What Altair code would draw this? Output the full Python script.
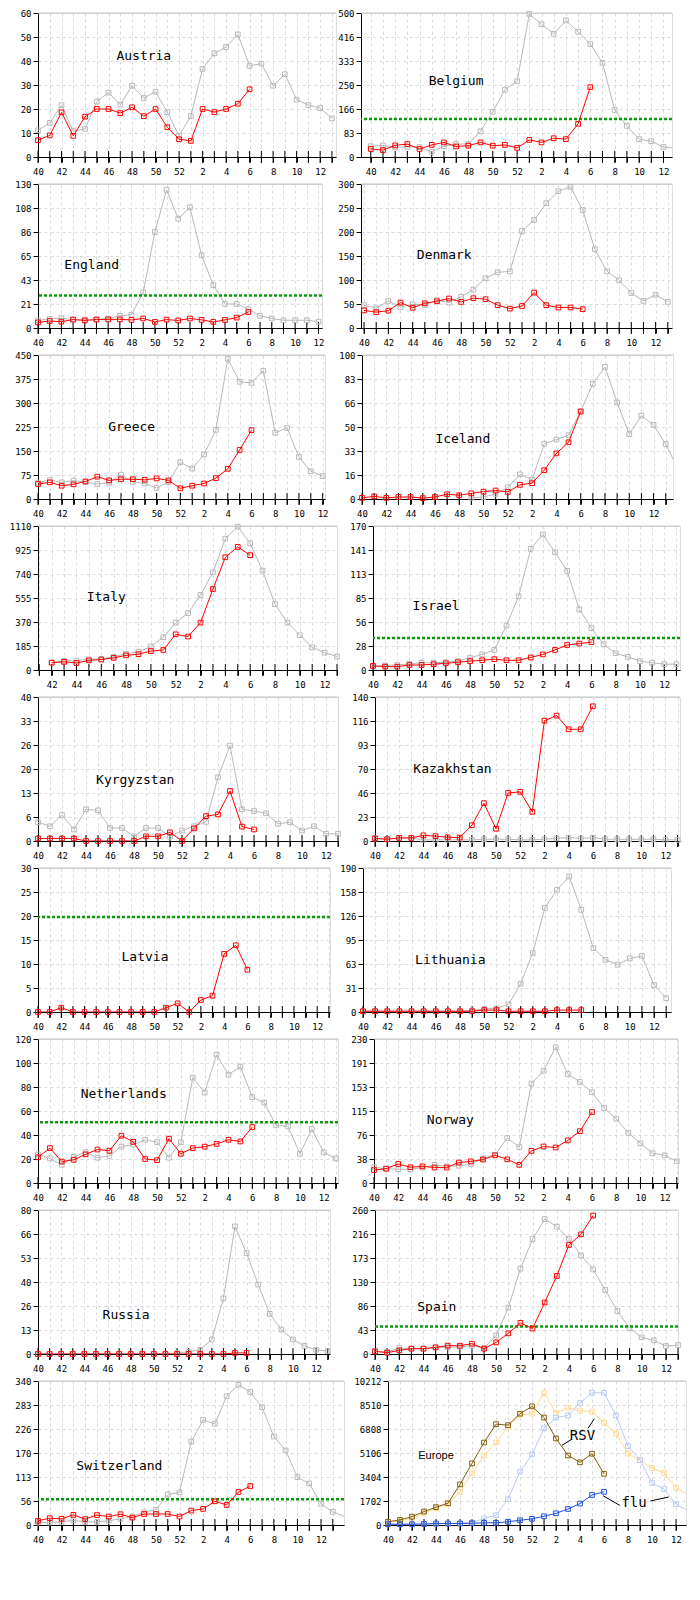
import math
import altair as alt
import pandas as pd

MONO = "DejaVu Sans Mono"
RED = "#ff0000"
GREY = "#b8b8b8"
GREEN = "#0c9a0c"
GRID = "#dadada"
PLOT_H = 144
LEFT_EXTENT = 29  # same y-axis room for every left panel, so the rows line up

# x index 0 = week 40, index 13 = week 1
WEEK_EXPR = "datum.value % 2 ? '' : '' + (datum.value < 13 ? 40 + datum.value : datum.value - 12)"

# ---- values (index 0 = week 40) ----
austria_red = [7.0, 9.0, 18.6, 8.8, 16.8, 20.0, 20.0, 18.3, 20.7, 17.0, 20.0, 12.4, 7.4, 6.7, 20.0, 18.7, 20.0, 22.2, 28.2]
austria_grey = [11.1, 14.2, 21.6, 10.8, 11.7, 23.1, 26.8, 21.8, 29.7, 24.6, 27.2, 18.7, 8.9, 17.0, 36.7, 43.2,
                45.8, 51.1, 38.0, 38.9, 29.7, 34.5, 23.9, 21.6, 20.4, 16.1]

belgium_red = [27.8, 23.9, 40.2, 45.0, 27.8, 42.1, 50.7, 36.4, 39.3, 50.7, 39.3, 42.1, 31.6, 59.4, 50.7, 65.1, 62.2, 115.2, 242.4]
belgium_grey = [37.3, 40.2, 33.5, 35.4, 34.5, 18.2, 37.3, 45.0, 45.0, 89.4, 157, 234, 263, 497, 461, 428, 474, 435,
                392, 327, 163, 108, 62, 55, 34.5, 30.6]

england_red = [5.0, 6.3, 5.7, 7.6, 6.8, 7.6, 7.8, 7.8, 7.3, 8.6, 5.5, 7.6, 6.8, 8.6, 7.3, 5.5, 7.3, 9.4, 14.4]
england_grey = [6.8, 8.4, 8.9, 7.6, 7.6, 7.8, 8.4, 11.0, 12.0, 32.2, 86.7, 124.7, 98.7, 108.9, 65.6, 38.7, 21.7,
                21.7, 17.0, 11.0, 8.6, 7.0, 7.0, 7.0, 5.7]

denmark_red = [36.7, 33.1, 36.1, 52.9, 42.2, 51.4, 55.7, 61.4, 54.3, 62.1, 60.0, 47.6, 40.4, 45.8, 73.6, 47.6, 42.8, 42.8, 39.2]
denmark_grey = [47.6, 41.0, 56.4, 43.4, 49.4, 48.2, 57.9, 52.9, 65.0, 80.0, 103.7, 116, 118, 202, 225, 260, 285, 294,
                245.7, 164, 118, 99.3, 72.9, 56.4, 69.3, 54.3]

greece_red = [46.8, 52, 41.5, 45.9, 54.7, 69.7, 58.2, 61.8, 61.8, 60, 64.4, 58.2, 33.5, 41.5, 48.5, 65.3, 94.3, 153.3, 215]
greece_grey = [51.2, 59.1, 52, 57.4, 53, 46.8, 51.2, 76, 53.8, 48.5, 34.4, 53, 114.6, 95.4, 139.3, 216, 438, 366.4,
               363, 401, 207, 221.7, 131.3, 86.8, 71.8]

iceland_red = [0.8, 1.8, 0.8, 1.4, 1.4, 0.6, 1.4, 3.3, 2.6, 3.9, 5.1, 5.9, 4.9, 9.8, 11, 20, 31.7, 39.4, 60.7]
iceland_grey = [None] * 9 + [0.8, 1.4, 3.5, 8.1, 17.1, 13.4, 38.4, 41.3, 44.3, 61, 80, 91.7, 67, 45.1, 57.9, 51.4, 38.1, 21]

italy_red = [None, None, 56.6, 63, 54, 74, 80.5, 93.6, 113, 122, 146, 154.5, 275, 258, 365, 624, 869, 949, 885]
italy_grey = [None, None, 57, 70, 72, 83, 85, 102, 126, 139, 181, 253, 365, 439, 578, 753, 1012, 1105, 976, 767,
              508, 365, 268, 174, 133, 104]

israel_red = [4.9, 4.0, 4.0, 5.9, 5.9, 6.9, 7.9, 9.2, 10.5, 11.5, 12.8, 11.5, 11.5, 14.8, 18.4, 23.7, 29.5, 31.2, 32.9]
israel_grey = [4.3, 5.3, 5.9, 7.2, 8.6, 8.6, 9.2, 10.5, 14.5, 18.4, 23.7, 52.6, 87, 143, 160, 139, 117, 71.5, 49.4,
               30.4, 19.8, 15.5, 10.5, 8.6, 6.9, 6.9]

kyrgyzstan_red = [0.7, 0.7, 0.7, 0.7, 0, 0, 0, 0, 0, 1.3, 1.3, 2.4, 0, 3.5, 6.9, 7.4, 13.9, 4.0, 3.2]
kyrgyzstan_grey = [5.2, 4.1, 7.2, 3.2, 8.8, 8.5, 3.6, 3.6, 1.3, 3.6, 3.6, 1.2, 2.9, 4.1, 5.3, 17.7, 26.5, 8.8, 8.3,
                   7.7, 4.8, 5.2, 2.9, 4.1, 2.0, 2.0]

kazakhstan_red = [2.5, 1.7, 3, 3, 5.5, 4.7, 3.6, 3.3, 15.3, 36.8, 11.9, 46.7, 47.8, 28.4, 117, 121.9, 108.6, 108.6, 131]
kazakhstan_grey = [2.5, 1.7, 3, 3, 1.1, 1.1, 1.1, 1.1, 1.1, 1.7, 1.7, 1.7, 1.1, 1.1, 1.7, 2.5, 3.3, 2.5, 3.3, 1.7,
                   1.7, 1.7, 1.7, 1.7, 1.1, 1.1]

latvia_red = [0, 0, 0.9, 0, 0, 0, 0, 0, 0, 0, 0, 0.9, 1.8, 0, 2.5, 3.4, 12.1, 13.9, 8.8]

lithuania_red = [1, 1, 1, 1, 1, 1, 1, 1, 1, 1, 2.5, 2.5, 1, 1, 1, 1, 2.5, 2.5, 2.5]
lithuania_grey = [1, 1, 1, 1, 1, 1, 1, 1, 1, 2, 4, 5, 10, 37.3, 77.8, 137.5, 161.2, 178.8, 134.8, 84.3, 68.9, 62.4,
                  70.7, 74, 35.5, 18.3]

netherlands_red = [21.4, 29.1, 17.9, 19.3, 23.9, 27.9, 26.9, 39.4, 34.3, 20, 19, 36.9, 24.4, 29.1, 30.3, 32.6, 36, 34.6, 46.6]
netherlands_grey = [23.9, 20.5, 15.2, 21.7, 25.7, 21.1, 22.6, 30.3, 32, 36, 34, 21.1, 34, 87.8, 75.4, 107, 90.3, 97,
                    71.6, 67, 48, 47.2, 24.4, 45, 25.5, 20.5]

norway_red = [20.6, 22.9, 30.4, 25.2, 26.6, 24.7, 24.7, 32.7, 34.6, 37.4, 44.2, 37.8, 29, 51.3, 58.3, 56.7, 68, 82.8, 113.3]
norway_grey = [25.2, 22.9, 22, 22, 24.7, 29, 26.6, 27.6, 30.4, 39.3, 45.2, 71.8, 57.3, 158.8, 179.2, 216.8, 174.1,
               161.4, 145, 119.7, 102.6, 80, 63.3, 47.4, 44.2, 34.6]

russia_red = [0, 0, 0, 0, 0, 0, 0, 0, 0, 0, 0, 0, 0, 0, 0, 0, 0, 0.6, 0.6]
russia_grey = [0, 0, 0, 0, 0, 0, 0, 0, 0, 0, 0, 0, 0.5, 1.3, 2.3, 8.1, 30.9, 70.9, 56, 38.6, 22.3, 13.6, 8.1, 4.5, 2.3, 1.7]

spain_red = [4.8, 2.4, 6.6, 9.6, 9.6, 12, 15, 15, 18.6, 9.6, 21, 37.3, 56.3, 45.9, 93, 141, 197, 216, 250]
spain_grey = [4.8, 3.6, 10.8, 9.6, 9.6, 12, 12, 13, 15, 10.8, 33.6, 83.5, 154.3, 207.6, 243.7, 230, 208, 178, 152.6,
              115.6, 77.5, 46.5, 30, 24.7, 14.4, 16]

switzerland_red = [10, 16, 14.6, 24, 14, 23.4, 20, 25.4, 17.4, 26, 26, 26, 20, 34, 38, 56, 47.4, 78, 92]
switzerland_grey = [6, 6, 7.4, 11, 7.4, 7.4, 10, 14.6, 20, 30, 36, 72, 77, 197, 248, 239, 304, 331, 314, 278, 209,
                    176, 113, 98, 50, 31, 20]

europe_rsv = [232, 361, 593, 954, 1264, 1547, 2878, 4369, 5849, 7153, 7079, 7893, 8412, 7622, 6137, 4928, 4446, 5055, 3633]
europe_rsv_prev = [180, 284, 464, 851, 1187, 1496, 2353, 3658, 4928, 5849, 6956, 7819, 7893, 9349, 7943, 8313, 8116,
                   8042, 7252, 6496, 5055, 4598, 4039, 3684, 2628, 2153]
europe_flu = [52, 52, 52, 77, 103, 103, 103, 129, 155, 155, 232, 335, 438, 619, 825, 1135, 1521, 2128, 2353]
europe_flu_prev = [52, 52, 52, 77, 77, 103, 129, 180, 464, 696, 1827, 3785, 5004, 6857, 7622, 7770, 8654, 9373, 9373,
                   7770, 5585, 4598, 2979, 2553, 1470, 1006]

# name -> (y max, red series, grey series, threshold)
PANELS = {
    "Austria": (60, austria_red, austria_grey, None),
    "Belgium": (500, belgium_red, belgium_grey, 132),
    "England": (130, england_red, england_grey, 29.4),
    "Denmark": (300, denmark_red, denmark_grey, None),
    "Greece": (450, greece_red, greece_grey, None),
    "Iceland": (100, iceland_red, iceland_grey, None),
    "Italy": (1110, italy_red, italy_grey, None),
    "Israel": (170, israel_red, israel_grey, 37.7),
    "Kyrgyzstan": (40, kyrgyzstan_red, kyrgyzstan_grey, None),
    "Kazakhstan": (140, kazakhstan_red, kazakhstan_grey, None),
    "Latvia": (30, latvia_red, None, 19.8),
    "Lithuania": (190, lithuania_red, lithuania_grey, None),
    "Netherlands": (120, netherlands_red, netherlands_grey, 50.7),
    "Norway": (230, norway_red, norway_grey, None),
    "Russia": (80, russia_red, russia_grey, None),
    "Spain": (260, spain_red, spain_grey, 49.8),
    "Switzerland": (340, switzerland_red, switzerland_grey, 61),
    "Europe": (10212, None, None, None),
}

# plot width, x domain in week index, name label position (index, value)
LAYOUT = {
    "Austria": dict(w=298, xmin=0, xmax=25.35, lx=9.0, ly=41.9),
    "Belgium": dict(w=311, xmin=-0.8, xmax=24.7, lx=7.0, ly=264),
    "England": dict(w=284, xmin=0, xmax=24.3, lx=4.6, ly=57),
    "Denmark": dict(w=311, xmin=-0.25, xmax=25.35, lx=6.6, ly=152),
    "Greece": dict(w=287, xmin=0, xmax=24.2, lx=7.9, ly=223.6),
    "Iceland": dict(w=311, xmin=0, xmax=25.6, lx=8.3, ly=41.7),
    "Italy": dict(w=299, xmin=0.9, xmax=25.0, lx=6.4, ly=561.6),
    "Israel": dict(w=307, xmin=0, xmax=25.3, lx=5.2, ly=75),
    "Kyrgyzstan": dict(w=300, xmin=0, xmax=25.0, lx=8.1, ly=16.9),
    "Kazakhstan": dict(w=305, xmin=0, xmax=25.2, lx=6.4, ly=70.4),
    "Latvia": dict(w=292, xmin=0, xmax=25.1, lx=9.2, ly=11.5),
    "Lithuania": dict(w=308, xmin=0, xmax=25.4, lx=7.2, ly=68.2),
    "Netherlands": dict(w=300, xmin=0, xmax=25.2, lx=7.2, ly=74),
    "Norway": dict(w=304, xmin=0, xmax=25.1, lx=6.3, ly=100.4),
    "Russia": dict(w=292, xmin=0, xmax=25.2, lx=7.6, ly=21.4),
    "Spain": dict(w=303, xmin=0, xmax=25.0, lx=5.1, ly=84.9),
    "Switzerland": dict(w=306, xmin=0, xmax=25.95, lx=6.9, ly=138.3),
    "Europe": dict(w=298, xmin=0, xmax=24.83, lx=4.0, ly=4883),
}

ROWS = [("Austria", "Belgium"), ("England", "Denmark"), ("Greece", "Iceland"), ("Italy", "Israel"),
        ("Kyrgyzstan", "Kazakhstan"), ("Latvia", "Lithuania"), ("Netherlands", "Norway"),
        ("Russia", "Spain"), ("Switzerland", "Europe")]
RIGHT_AXIS_X = [356, 356, 356, 366, 368, 359, 369, 370, 384]

# Europe annotations (index, value)
europe_notes = pd.DataFrame({"idx": [16.2, 20.5], "val": [6329, 1573], "txt": ["RSV", "flu"]})
europe_leaders = pd.DataFrame({
    "idx": [14.5, 16.67, 17.92, 21.86], "val": [5657, 6857, 2077, 1702],
    "idx2": [15.28, 17.19, 19.31, 23.39], "val2": [6065, 7535, 1393, 1985],
})


def encodings(ymax, lay, y_extent):
    ticks = list(range(math.ceil(lay["xmin"]), math.floor(lay["xmax"]) + 1))
    common = dict(grid=True, gridColor=GRID, gridDash=[3, 3], domainColor="black", tickColor="black",
                  tickSize=5, labelFont=MONO, labelFontSize=9, labelColor="black",
                  labelFlush=False, labelOverlap=False, title=None)
    x = alt.X("idx:Q", scale=alt.Scale(domain=[lay["xmin"], lay["xmax"]], nice=False, zero=False),
              axis=alt.Axis(values=ticks, labelExpr=WEEK_EXPR, labelPadding=5, labelAngle=0,
                            minExtent=0, **common))
    y = alt.Y("val:Q", scale=alt.Scale(domain=[0, ymax], nice=False, zero=True),
              axis=alt.Axis(values=[ymax * k / 6 for k in range(7)], labelExpr="floor(datum.value)",
                            labelPadding=2, minExtent=y_extent, **common))
    return x, y, ticks


def series(values, color, x, y, lay):
    df = pd.DataFrame({"idx": list(range(len(values))), "val": values}).dropna()
    inside = df[(df["idx"] >= lay["xmin"]) & (df["idx"] <= lay["xmax"])]
    line = alt.Chart(df).mark_line(color=color, strokeWidth=1, clip=True).encode(x=x, y=y)
    pts = alt.Chart(inside).mark_point(shape="square", filled=False, size=22, strokeWidth=1,
                                       color=color, opacity=1).encode(x=x, y=y)
    return [line, pts]


def frame(ymax, x, y, ticks):
    top = alt.Chart(pd.DataFrame({"val": [ymax]})).mark_rule(color="#c4c4c4", strokeWidth=1).encode(y=y)
    crosses = alt.Chart(pd.DataFrame({"idx": ticks, "val": [0] * len(ticks)})).mark_tick(
        orient="vertical", size=12, thickness=1, color="black", opacity=1).encode(x=x, y=y)
    return [top, crosses]


def country_panel(name, y_extent=0):
    ymax, red, grey, threshold = PANELS[name]
    lay = LAYOUT[name]
    x, y, ticks = encodings(ymax, lay, y_extent)
    layers = frame(ymax, x, y, ticks)
    if grey is not None:
        layers += series(grey, GREY, x, y, lay)
    if threshold is not None:
        layers.append(alt.Chart(pd.DataFrame({"val": [threshold]})).mark_rule(
            color=GREEN, strokeWidth=2.5, strokeDash=[3, 2]).encode(y=y))
    layers += series(red, RED, x, y, lay)
    label = pd.DataFrame({"idx": [lay["lx"]], "val": [lay["ly"]], "txt": [name]})
    layers.append(alt.Chart(label).mark_text(font=MONO, fontSize=13, color="black", align="center",
                                             baseline="middle").encode(x=x, y=y, text="txt:N"))
    return alt.layer(*layers).properties(width=lay["w"], height=PLOT_H)


def europe_panel():
    ymax = PANELS["Europe"][0]
    lay = LAYOUT["Europe"]
    x, y, ticks = encodings(ymax, lay, 0)
    layers = frame(ymax, x, y, ticks)
    layers += series(europe_rsv_prev, "#ffd98c", x, y, lay)
    layers += series(europe_flu_prev, "#b9cbf3", x, y, lay)
    layers += series(europe_rsv, "#806010", x, y, lay)
    layers += series(europe_flu, "#1e50dc", x, y, lay)
    layers.append(alt.Chart(europe_leaders).mark_rule(color="black", strokeWidth=1).encode(
        x=x, y=y, x2="idx2:Q", y2="val2:Q"))
    layers.append(alt.Chart(europe_notes).mark_text(font=MONO, fontSize=14, color="black", align="center",
                                                    baseline="middle").encode(x=x, y=y, text="txt:N"))
    label = pd.DataFrame({"idx": [lay["lx"]], "val": [lay["ly"]], "txt": ["Europe"]})
    layers.append(alt.Chart(label).mark_text(font="Liberation Sans", fontSize=11, color="black",
                                             align="center", baseline="middle").encode(x=x, y=y, text="txt:N"))
    return alt.layer(*layers).properties(width=lay["w"], height=PLOT_H)


def axis_extent(name):
    return 7 + 5.42 * len(str(PANELS[name][0]))


rows = []
for (left, right), target in zip(ROWS, RIGHT_AXIS_X):
    left_right_edge = 8 + LEFT_EXTENT + LAYOUT[left]["w"]
    gap = max(0, round(target - left_right_edge - axis_extent(right)))
    right_chart = europe_panel() if right == "Europe" else country_panel(right)
    rows.append(alt.hconcat(country_panel(left, LEFT_EXTENT), right_chart, spacing=gap))

chart = alt.vconcat(*rows, spacing=2).properties(padding=0).configure_view(stroke=None).configure(
    background="white")

chart.save("out.html", embed_options={"renderer": "svg", "actions": False})
